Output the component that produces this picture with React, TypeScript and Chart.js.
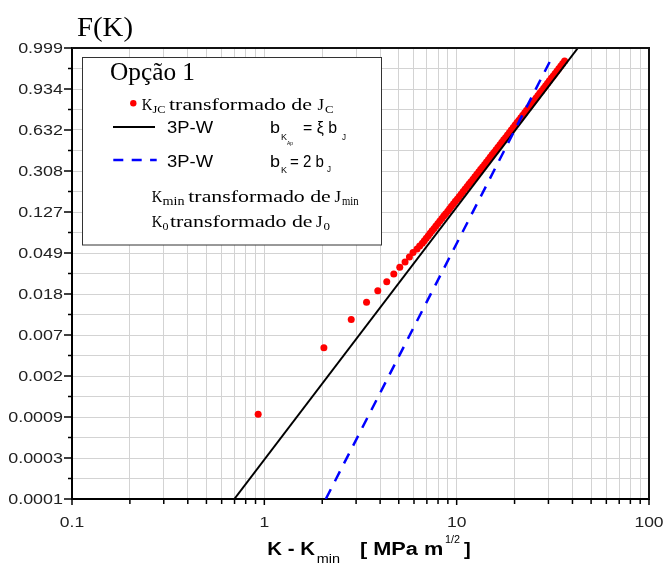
import React, { useEffect, useRef } from "react";
import { Chart, registerables } from "chart.js";

Chart.register(...registerables);

// ---- Data ----
// Horizontal axis: K - Kmin [MPa m^1/2] (log scale)
// Vertical axis: Weibull units ln(-ln(1-F)); tick labels show F
const Y_TICK_VALUES = [2, 1, 0, -1, -2, -3, -4, -5, -6, -7, -8, -9];
const Y_TICK_LABELS = ["0.999", "0.934", "0.632", "0.308", "0.127", "0.049", "0.018", "0.007", "0.002", "0.0009", "0.0003", "0.0001"];
const X_LABEL_VALUES = [0.1, 1, 10, 100];
const X_LABELS = ["0.1", "1", "10", "100"];
const X_DECADES = [0.1, 1, 10];
const X_MULTIPLIERS = [1, 2, 3, 4, 5, 6, 7, 8, 9];

// K_JC transformado de J_C (red points)
const KJC_K = [
  0.929, 2.04, 2.83, 3.40, 3.89, 4.33, 4.71, 5.06, 5.39, 5.68, 5.93, 6.22, 6.42, 6.63,
  6.79, 6.95, 7.12, 7.28, 7.45, 7.63, 7.80, 7.99, 8.18, 8.38, 8.57, 8.77, 8.99, 9.19,
  9.40, 9.63, 9.85, 10.09, 10.32, 10.57, 10.81, 11.07, 11.34, 11.60, 11.87, 12.16,
  12.44, 12.73, 13.04, 13.34, 13.65, 13.98, 14.30, 14.64, 14.97, 15.31, 15.68, 16.03,
  16.40, 16.79, 17.17, 17.56, 17.98, 18.38, 18.81, 19.24, 19.69, 20.14, 20.60, 21.08,
  21.56, 22.06, 22.58, 23.09, 23.62, 24.17, 24.72, 25.30, 25.88, 26.47, 27.08, 27.72,
  28.35, 29.00, 29.67, 30.35, 31.05, 31.77, 32.50, 33.25, 34.01, 34.80, 35.60, 36.41,
];
const KJC_W = [
  -6.93, -5.31, -4.62, -4.20, -3.92, -3.70, -3.51, -3.35, -3.22, -3.10, -2.99, -2.90, -2.83, -2.76,
  -2.70, -2.64, -2.58, -2.52, -2.46, -2.40, -2.34, -2.28, -2.22, -2.16, -2.10, -2.04, -1.98, -1.92,
  -1.86, -1.80, -1.74, -1.68, -1.62, -1.56, -1.50, -1.44, -1.38, -1.32, -1.26, -1.20,
  -1.14, -1.08, -1.02, -0.96, -0.90, -0.84, -0.78, -0.72, -0.66, -0.60, -0.54, -0.48,
  -0.42, -0.36, -0.30, -0.24, -0.18, -0.12, -0.06, 0.00, 0.06, 0.12, 0.18, 0.24,
  0.30, 0.36, 0.42, 0.48, 0.54, 0.60, 0.66, 0.72, 0.78, 0.84, 0.90, 0.96,
  1.02, 1.08, 1.14, 1.20, 1.26, 1.32, 1.38, 1.44, 1.50, 1.56, 1.62, 1.68,
];

// 3P-W, b_KAp = xi b_J (black solid line)
const LINE_XI_K = [0.698, 42.7];
const LINE_XI_W = [-9, 2];
// 3P-W, b_K = 2 b_J (blue dashed line)
const LINE_2B_K = [2.087, 31.3];
const LINE_2B_W = [-9, 1.77];

const SANS = '"Liberation Sans", Arial, Helvetica, sans-serif';
const SERIF = '"Liberation Serif", "Times New Roman", Times, serif';

function txt(
  ctx: CanvasRenderingContext2D,
  text: string,
  x: number,
  y: number,
  font: string,
  width?: number,
  align: "left" | "right" | "center" = "left",
  sx0 = 1
) {
  ctx.font = font;
  ctx.textAlign = "left";
  ctx.textBaseline = "alphabetic";
  const w = ctx.measureText(text).width;
  const sx = width ? width / w : sx0;
  const tw = w * sx;
  let left = x;
  if (align === "right") left = x - tw;
  if (align === "center") left = x - tw / 2;
  ctx.save();
  ctx.translate(left, y);
  ctx.scale(sx, 1);
  ctx.fillText(text, 0, 0);
  ctx.restore();
}

const decor = {
  id: "decor",
  afterDraw(chart: any) {
    const ctx: CanvasRenderingContext2D = chart.ctx;
    const ca = chart.chartArea;
    const xs = chart.scales.x;
    const ys = chart.scales.y;
    ctx.save();

    // frame top & right
    ctx.strokeStyle = "#111";
    ctx.lineWidth = 2;
    ctx.beginPath();
    ctx.moveTo(ca.left, ca.top);
    ctx.lineTo(ca.right, ca.top);
    ctx.lineTo(ca.right, ca.bottom);
    ctx.stroke();

    // tick marks
    ctx.strokeStyle = "#000";
    ctx.lineWidth = 1.5;
    xs.ticks.forEach((t: any) => {
      const px = xs.getPixelForValue(t.value);
      const major = X_LABEL_VALUES.some((v) => Math.abs(v - t.value) < 1e-9);
      ctx.beginPath();
      ctx.moveTo(px, ca.bottom);
      ctx.lineTo(px, ca.bottom + (major ? 6 : 5));
      ctx.stroke();
    });
    ys.ticks.forEach((t: any) => {
      const py = ys.getPixelForValue(t.value);
      const major = Math.abs(t.value - Math.round(t.value)) < 1e-9;
      ctx.beginPath();
      ctx.moveTo(ca.left - (major ? 8 : 4), py);
      ctx.lineTo(ca.left, py);
      ctx.stroke();
    });

    // tick labels
    ctx.fillStyle = "#222";
    Y_TICK_VALUES.forEach((v, i) => {
      const py = ys.getPixelForValue(v);
      txt(ctx, Y_TICK_LABELS[i], ca.left - 9, py + 4.5, `14px ${SANS}`, undefined, "right", 1.28);
    });
    X_LABEL_VALUES.forEach((v, i) => {
      const px = xs.getPixelForValue(v);
      txt(ctx, X_LABELS[i], px, ca.bottom + 28, `14px ${SANS}`, undefined, "center", 1.25);
    });

    // axis titles
    ctx.fillStyle = "#000";
    txt(ctx, "F(K)", 77, 36, `28px ${SERIF}`, 56);
    txt(ctx, "K - K", 267.3, 555, `bold 18px ${SANS}`, 47.7);
    txt(ctx, "min", 316.7, 563, `12px ${SANS}`, 23.3);
    txt(ctx, "[ MPa m", 360, 555, `bold 18px ${SANS}`, 83.3);
    txt(ctx, "1/2", 445, 543, `11px ${SANS}`, 15);
    txt(ctx, "]", 464, 555, `bold 18px ${SANS}`, 6.7);

    // legend box
    ctx.fillStyle = "#fff";
    ctx.fillRect(82.5, 57.5, 299, 187.5);
    ctx.strokeStyle = "#333";
    ctx.lineWidth = 1;
    ctx.strokeRect(82.5, 57.5, 299, 187.5);

    ctx.fillStyle = "#000";
    txt(ctx, "Opção 1", 110, 80, `25px ${SERIF}`, 85);

    // row 1: red dot
    ctx.fillStyle = "#ff0000";
    ctx.beginPath();
    ctx.arc(133.3, 103.3, 3.2, 0, Math.PI * 2);
    ctx.fill();
    ctx.fillStyle = "#000";
    txt(ctx, "K", 141.7, 110, `16px ${SERIF}`, 10.5);
    txt(ctx, "JC", 152.5, 113, `10px ${SERIF}`, 13);
    txt(ctx, "transformado de", 169, 110, `16px ${SERIF}`, 143);
    txt(ctx, "J", 317.5, 110, `16px ${SERIF}`, 6.5);
    txt(ctx, "C", 325, 113, `10px ${SERIF}`, 8.5);

    // row 2: black line
    ctx.strokeStyle = "#000";
    ctx.lineWidth = 2;
    ctx.beginPath();
    ctx.moveTo(113, 127);
    ctx.lineTo(155, 127);
    ctx.stroke();
    txt(ctx, "3P-W", 167, 133, `16px ${SANS}`, 46);
    txt(ctx, "b", 270, 133, `17px ${SANS}`, 10);
    txt(ctx, "K", 281, 140, `9px ${SANS}`, 6);
    txt(ctx, "Ap", 287, 145, `6px ${SANS}`, 6);
    txt(ctx, "= ξ b", 303, 133, `17px ${SANS}`, 34);
    txt(ctx, "J", 342, 140, `9px ${SANS}`, 4);

    // row 3: blue dashed line
    ctx.strokeStyle = "#0000ff";
    ctx.lineWidth = 2.5;
    ctx.setLineDash([10, 8.4]);
    ctx.beginPath();
    ctx.moveTo(113.3, 160);
    ctx.lineTo(156.7, 160);
    ctx.stroke();
    ctx.setLineDash([]);
    txt(ctx, "3P-W", 167, 166.7, `16px ${SANS}`, 46);
    txt(ctx, "b", 270, 166.7, `17px ${SANS}`, 10);
    txt(ctx, "K", 281, 173, `9px ${SANS}`, 6);
    txt(ctx, "= 2 b", 290, 166.7, `17px ${SANS}`, 34);
    txt(ctx, "J", 327, 172, `9px ${SANS}`, 4);

    // row 4
    txt(ctx, "K", 151.7, 201.7, `16px ${SERIF}`, 10.5);
    txt(ctx, "min", 162.5, 205, `12px ${SERIF}`, 22);
    txt(ctx, "transformado de", 188.3, 201.7, `16px ${SERIF}`, 142.5);
    txt(ctx, "J", 334.5, 201.7, `16px ${SERIF}`, 6.5);
    txt(ctx, "min", 342, 205, `12px ${SERIF}`, 16.6);

    // row 5
    txt(ctx, "K", 151.7, 226.7, `16px ${SERIF}`, 10.5);
    txt(ctx, "0", 162.5, 230, `11px ${SERIF}`, 6);
    txt(ctx, "transformado de", 170, 226.7, `16px ${SERIF}`, 142.5);
    txt(ctx, "J", 316, 226.7, `16px ${SERIF}`, 6.5);
    txt(ctx, "0", 323.5, 230, `11px ${SERIF}`, 6.5);

    ctx.restore();
  },
};

export default function App() {
  const ref = useRef<HTMLCanvasElement | null>(null);

  useEffect(() => {
    if (!ref.current) return;
    const xTicks: number[] = [];
    X_DECADES.forEach((d) => X_MULTIPLIERS.forEach((m) => xTicks.push(+(d * m).toPrecision(6))));
    xTicks.push(100);
    const yGrid: number[] = [];
    for (let v = -9; v <= 2.0001; v += 0.5) yGrid.push(v);

    const red = KJC_K.map((k, i) => ({ x: k, y: KJC_W[i] }));
    const black = LINE_XI_K.map((k, i) => ({ x: k, y: LINE_XI_W[i] }));
    const blue = LINE_2B_K.map((k, i) => ({ x: k, y: LINE_2B_W[i] }));

    const chart = new Chart(ref.current, {
      type: "scatter",
      data: {
        datasets: [
          {
            label: "3P-W bK = 2 bJ",
            data: blue,
            showLine: true,
            borderColor: "#0000ff",
            borderWidth: 2.5,
            borderDash: [11, 9],
            pointRadius: 0,
            order: 0,
          },
          {
            label: "3P-W bKAp = ξ bJ",
            data: black,
            showLine: true,
            borderColor: "#000000",
            borderWidth: 2,
            pointRadius: 0,
            order: 1,
          },
          {
            label: "KJC transformado de JC",
            data: red,
            showLine: false,
            pointRadius: 3.5,
            pointBackgroundColor: "#ff0000",
            pointBorderColor: "#ff0000",
            pointBorderWidth: 0,
            order: 2,
          },
        ],
      },
      options: {
        responsive: false,
        animation: false,
        layout: { padding: { top: 48, right: 16, left: 0, bottom: 0 } },
        plugins: { legend: { display: false }, tooltip: { enabled: false } },
        scales: {
          x: {
            type: "logarithmic",
            position: "bottom",
            min: 0.1,
            max: 100,
            grid: { color: "#d3d3d3", lineWidth: 1, drawTicks: false },
            border: { color: "#000", width: 2 },
            ticks: { display: false },
            afterBuildTicks: (s: any) => {
              s.ticks = xTicks.map((v) => ({ value: v }));
            },
            afterFit: (s: any) => {
              s.height = 64;
            },
          },
          y: {
            type: "linear",
            position: "left",
            min: -9,
            max: 2,
            grid: { color: "#d3d3d3", lineWidth: 1, drawTicks: false },
            border: { color: "#000", width: 2 },
            ticks: { display: false },
            afterBuildTicks: (s: any) => {
              s.ticks = yGrid.map((v) => ({ value: v }));
            },
            afterFit: (s: any) => {
              s.width = 72;
            },
          },
        },
      },
      plugins: [decor],
    } as any);
    return () => chart.destroy();
  }, []);

  return (
    <div style={{ position: "fixed", left: 0, top: 0, width: 665, height: 563, background: "#fff" }}>
      <canvas ref={ref} width={665} height={563} style={{ display: "block", width: 665, height: 563 }} />
    </div>
  );
}
